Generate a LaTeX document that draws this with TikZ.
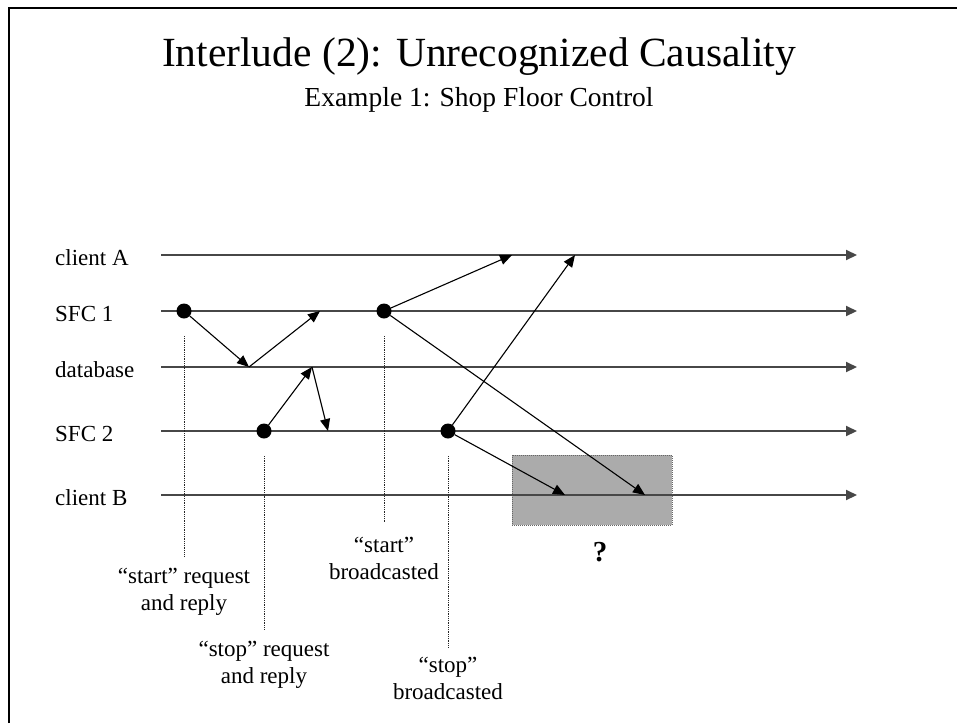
\documentclass[tikz,border=0pt]{standalone}
\usepackage{fontspec}
\setmainfont{Liberation Serif}
\usetikzlibrary{arrows.meta}
\begin{document}
\begin{tikzpicture}[x=1pt,y=-1pt,
  lifeline/.style={draw=black!72, line width=2pt, -{Triangle[length=11pt,width=10pt]}},
  msg/.style={draw=black, line width=1.1pt, -{Triangle[length=12pt,width=10pt]}},
  event/.style={circle, fill=black, inner sep=0pt, minimum size=15pt},
  guide/.style={draw=black!85, line width=0.9pt, dash pattern=on 1pt off 0.8pt},
  procname/.style={font=\fontsize{23}{27}\selectfont, anchor=base west, inner sep=0pt},
  note/.style={font=\fontsize{23}{27}\selectfont, align=center, anchor=base, inner sep=0pt},
]
\useasboundingbox (0,0) rectangle (957,723);

% slide frame (left and top edges)
\draw[line width=2.6pt] (9,723) -- (9,8) -- (957,8);

% headings
\node[font=\fontsize{41.5}{48}\selectfont, anchor=base, inner sep=0pt] (title) at (479,66)
  {Interlude (2): Unrecognized Causality};
\node[font=\fontsize{27.5}{33}\selectfont, anchor=base, inner sep=0pt] (subtitle) at (479,106)
  {Example 1: Shop Floor Control};

% region of unknown ordering at client B
\node[draw=black!60, dash pattern=on 1pt off 1pt, fill=black!33, minimum width=160pt,
  minimum height=70pt, inner sep=0pt] (unknown) at (592,490) {};
\node[font=\bfseries\fontsize{29}{34}\selectfont, anchor=base, inner sep=0pt] (qmark) at (600,561) {?};

% process time lines
\coordinate (aS) at (161,255); \coordinate (aE) at (857,255);
\coordinate (s1S) at (161,311); \coordinate (s1E) at (857,311);
\coordinate (dbS) at (161,367); \coordinate (dbE) at (857,367);
\coordinate (s2S) at (161,431); \coordinate (s2E) at (857,431);
\coordinate (bS) at (161,495); \coordinate (bE) at (857,495);
\foreach \p in {a,s1,db,s2,b} { \draw[lifeline] (\p S) -- (\p E); }

\node[procname] (la) at (55,265) {client A};
\node[procname] (ls1) at (55,321) {SFC 1};
\node[procname] (ldb) at (55,377) {database};
\node[procname] (ls2) at (55,441) {SFC 2};
\node[procname] (lb) at (55,505) {client B};

% events
\node[event] (e1) at (184,311) {};
\node[event] (e2) at (264,431) {};
\node[event] (e3) at (384,311) {};
\node[event] (e4) at (448,431) {};

% message receipt points
\coordinate (d1) at (249,367);
\coordinate (r1) at (320,311);
\coordinate (d2) at (312,367);
\coordinate (r2) at (328,431);
\coordinate (ca1) at (512,255);
\coordinate (cb1) at (645,495);
\coordinate (ca2) at (575,255);
\coordinate (cb2) at (565,495);

% messages
\draw[msg] (e1) -- (d1);
\draw[msg] (d1) -- (r1);
\draw[msg] (e2) -- (d2);
\draw[msg] (d2) -- (r2);
\draw[msg] (e3) -- (ca1);
\draw[msg] (e3) -- (cb1);
\draw[msg] (e4) -- (ca2);
\draw[msg] (e4) -- (cb2);

% dotted guides to the captions
\draw[guide] (e1.center) ++(0,25) -- ++(0,220);
\draw[guide] (e2.center) ++(0,25) -- ++(0,174);
\draw[guide] (e3.center) ++(0,25) -- ++(0,187);
\draw[guide] (e4.center) ++(0,25) -- ++(0,191);

% captions (anchored at the baseline of their last line)
\node[note] (n1) at (184,610) {“start” request\\and reply};
\node[note] (n2) at (264,683) {“stop” request\\and reply};
\node[note] (n3) at (384,579) {“start”\\broadcasted};
\node[note] (n4) at (448,699) {“stop”\\broadcasted};
\end{tikzpicture}
\end{document}
